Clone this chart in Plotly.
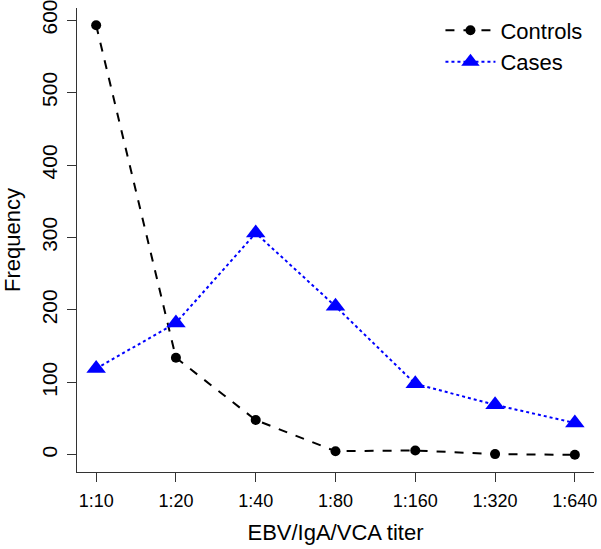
import plotly.graph_objects as go

titers = ['1:10', '1:20', '1:40', '1:80', '1:160', '1:320', '1:640']
controls = [593, 134, 48, 5, 6, 1, 0]
cases = [119, 182, 306, 205, 98, 69, 44]

font = 'Liberation Sans, Arial, Helvetica, sans-serif'

fig = go.Figure()
fig.add_trace(go.Scatter(
    x=titers, y=controls, name='Controls', mode='lines+markers',
    line=dict(color='black', width=2, dash='dash'),
    marker=dict(symbol='circle', size=10, color='black'),
))
fig.add_trace(go.Scatter(
    x=titers, y=cases, name='Cases', mode='lines+markers',
    line=dict(color='blue', width=2, dash='dot'),
    marker=dict(symbol='triangle-up', size=17, color='blue'),
))

fig.update_layout(
    width=601, height=549,
    margin=dict(l=77, r=7, t=8, b=77),
    paper_bgcolor='white', plot_bgcolor='white',
    font=dict(family=font, color='black'),
    legend=dict(x=0.703, y=0.997, xanchor='left', yanchor='top',
                font=dict(size=22), bgcolor='rgba(0,0,0,0)', itemwidth=50),
)
fig.update_xaxes(
    type='category', range=[-0.24, 6.24], automargin=False,
    showline=True, linecolor='#333', linewidth=1, mirror=False,
    ticks='outside', ticklen=9, tickcolor='#333', ticklabelstandoff=3,
    ticklabeloverflow='allow',
    tickfont=dict(size=18), showgrid=False, zeroline=False,
    title=dict(text='EBV/IgA/VCA titer', font=dict(size=22)),
)
fig.update_yaxes(
    range=[-23.7, 616.7], tickvals=[0, 100, 200, 300, 400, 500, 600],
    automargin=False,
    showline=True, linecolor='#333', linewidth=1,
    ticks='outside', ticklen=9, tickcolor='#333', tickangle=-90,
    ticklabelstandoff=2, ticklabeloverflow='allow',
    tickfont=dict(size=21), showgrid=False, zeroline=False,
    title=dict(text='Frequency', font=dict(size=22)),
)

# drop the page's default body margin so the figure sits at the window corner
fig.write_html("out.html", config={'displayModeBar': False},
               post_script="document.body.style.margin = '0';")
